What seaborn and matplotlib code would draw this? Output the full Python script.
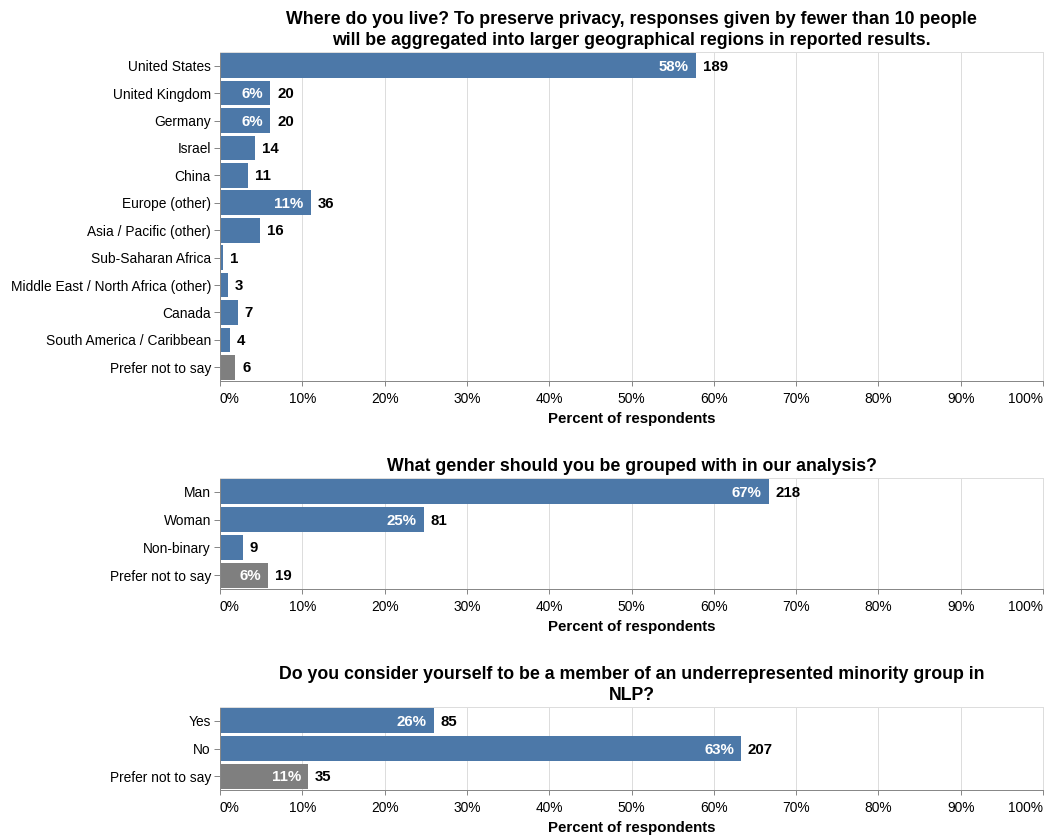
import matplotlib
matplotlib.use('Agg')
import matplotlib.pyplot as plt
import seaborn as sns
import pandas as pd

# Set style
sns.set_theme(style='white')
plt.rcParams['font.family'] = ['Liberation Sans', 'DejaVu Sans']
plt.rcParams['text.color'] = 'black'
plt.rcParams['axes.labelcolor'] = 'black'
plt.rcParams['xtick.color'] = 'black'
plt.rcParams['ytick.color'] = 'black'

# Survey answers (counts of respondents)
country_labels = ['United States', 'United Kingdom', 'Germany', 'Israel', 'China',
                  'Europe (other)', 'Asia / Pacific (other)', 'Sub-Saharan Africa',
                  'Middle East / North Africa (other)', 'Canada',
                  'South America / Caribbean', 'Prefer not to say']
country_counts = [189, 20, 20, 14, 11, 36, 16, 1, 3, 7, 4, 6]

gender_labels = ['Man', 'Woman', 'Non-binary', 'Prefer not to say']
gender_counts = [218, 81, 9, 19]

minority_labels = ['Yes', 'No', 'Prefer not to say']
minority_counts = [85, 207, 35]

country_title = ('Where do you live? To preserve privacy, responses given by fewer than 10 people\n'
                 'will be aggregated into larger geographical regions in reported results.')
gender_title = 'What gender should you be grouped with in our analysis?'
minority_title = ('Do you consider yourself to be a member of an underrepresented minority group in\n'
                  'NLP?')

BLUE = '#4c78a8'
GREY = '#7f7f7f'
W, H = 1046, 835
PX = 0.72  # one pixel in points at dpi 100
S = 1.37   # text scale of the reference

fig = plt.figure(figsize=(W / 100, H / 100), dpi=100)


def px_axes(top, bottom):
    return fig.add_axes([220 / W, 1 - bottom / H, 823 / W, (bottom - top) / H])


def draw(ax, labels, counts, title):
    total = sum(counts)
    df = pd.DataFrame({'answer': labels, 'count': counts})
    df['pct'] = df['count'] / total * 100
    df['na'] = df['answer'].eq('Prefer not to say')

    sns.barplot(data=df, x='pct', y='answer', hue='na',
                palette={False: BLUE, True: GREY}, dodge=False, legend=False,
                width=0.9, saturation=1, linewidth=0, ax=ax, zorder=2)

    for i, row in df.iterrows():
        if row['pct'] >= 5:
            ax.annotate(f"{row['pct']:.0f}%", (row['pct'], i), xytext=(-7 * PX, -1 * PX),
                        textcoords='offset points', ha='right', va='center',
                        color='white', fontsize=11 * S * PX, fontweight='bold')
        ax.annotate(f"{row['count']}", (row['pct'], i), xytext=(7 * PX, -1 * PX),
                    textcoords='offset points', ha='left', va='center',
                    color='black', fontsize=11 * S * PX, fontweight='bold')

    ax.set_xlim(0, 100)
    ax.set_ylim(len(labels) - 0.5, -0.5)
    ax.set_xticks(range(0, 101, 10))
    ax.set_xticklabels([f'{v}%' for v in range(0, 101, 10)])
    ticklabels = ax.get_xticklabels()
    ticklabels[0].set_ha('left')
    ticklabels[-1].set_ha('right')

    ax.xaxis.grid(True, color='#dddddd', lw=PX)
    ax.yaxis.grid(False)
    ax.set_axisbelow(True)
    for side in ['top', 'right']:
        ax.spines[side].set_color('#dddddd')
        ax.spines[side].set_linewidth(PX)
    for side in ['left', 'bottom']:
        ax.spines[side].set_color('#888888')
        ax.spines[side].set_linewidth(PX)

    ax.tick_params(axis='x', length=5 * PX, width=PX, color='#888888', pad=6 * PX,
                   labelsize=10 * S * PX, bottom=True)
    ax.tick_params(axis='y', length=6 * PX, width=PX, color='#888888', pad=3 * PX,
                   labelsize=10 * S * PX, left=True)

    ax.set_ylabel('')
    ax.set_xlabel('Percent of respondents', fontsize=11 * S * PX, fontweight='bold',
                  labelpad=6 * PX)
    ax.set_title(title, fontsize=13 * S * PX, fontweight='bold', pad=7 * PX,
                 linespacing=1.3)


draw(px_axes(52, 381), country_labels, country_counts, country_title)
draw(px_axes(478, 589), gender_labels, gender_counts, gender_title)
draw(px_axes(707, 790), minority_labels, minority_counts, minority_title)

fig.savefig('out.png', dpi=100)
